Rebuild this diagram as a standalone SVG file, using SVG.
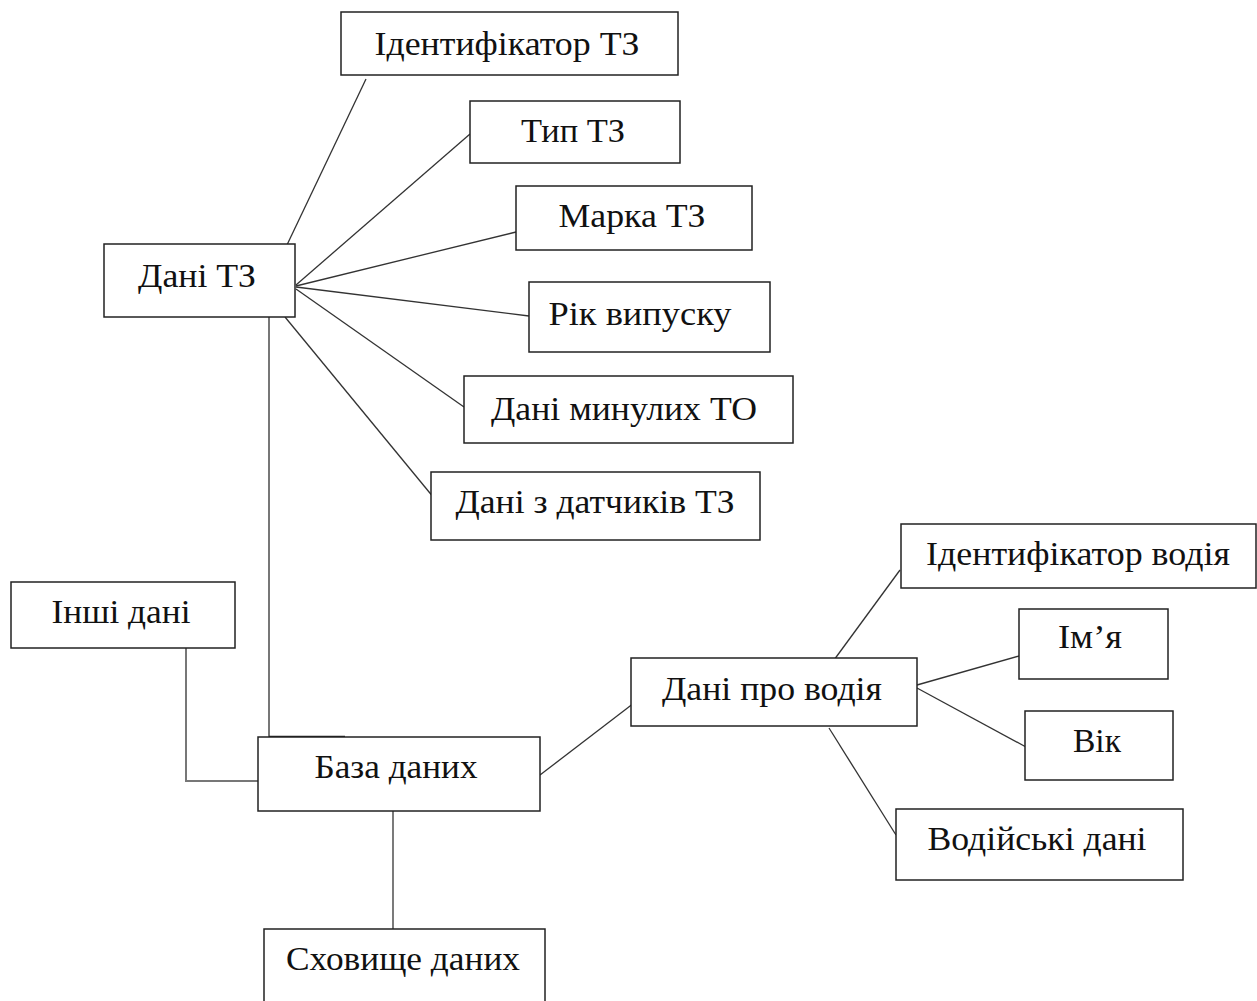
<svg xmlns="http://www.w3.org/2000/svg" width="1257" height="1001" viewBox="0 0 1257 1001">
<style>
.box{fill:#fff;stroke:#222;stroke-width:1.5}
.lbl{font-family:"Liberation Serif","Times New Roman",serif;font-size:33px;fill:#111;text-anchor:middle}
.ln{stroke:#333;stroke-width:1.3;fill:none}
.gl{stroke:#777;stroke-width:2;fill:none}
</style>
<rect width="1257" height="1001" fill="#fff"/>
<g id="connectors">
<line class="ln" x1="366" y1="79" x2="286" y2="247"/>
<line class="ln" x1="470" y1="134" x2="296" y2="285"/>
<line class="ln" x1="516" y1="232" x2="296" y2="286"/>
<line class="ln" x1="529" y1="316" x2="296" y2="287"/>
<line class="ln" x1="296" y1="289" x2="464" y2="407"/>
<line class="ln" x1="285" y1="317" x2="434" y2="498"/>
<polyline class="gl" points="269,317 269,737"/>
<line stroke="#222" stroke-width="2.5" x1="269" y1="737" x2="345" y2="737"/>
<polyline class="gl" points="186,648 186,781 258,781"/>
<line class="ln" x1="393" y1="811" x2="393" y2="929"/>
<line class="ln" x1="540" y1="775" x2="634" y2="703"/>
<line class="ln" x1="834" y1="660" x2="900" y2="570"/>
<line class="ln" x1="917" y1="685" x2="1019" y2="656"/>
<line class="ln" x1="917" y1="688" x2="1026" y2="747"/>
<line class="ln" x1="829" y1="728" x2="896" y2="835"/>
</g>
<g id="n-ident-tz"><rect class="box" x="341" y="12" width="337" height="63"/><text class="lbl" x="507" y="55" textLength="265" lengthAdjust="spacingAndGlyphs">Ідентифікатор ТЗ</text></g>
<g id="n-typ-tz"><rect class="box" x="470" y="101" width="210" height="62"/><text class="lbl" x="573" y="142" textLength="104" lengthAdjust="spacingAndGlyphs">Тип ТЗ</text></g>
<g id="n-marka-tz"><rect class="box" x="516" y="186" width="236" height="64"/><text class="lbl" x="632" y="227" textLength="147" lengthAdjust="spacingAndGlyphs">Марка ТЗ</text></g>
<g id="n-rik"><rect class="box" x="529" y="282" width="241" height="70"/><text class="lbl" x="640" y="325" textLength="183" lengthAdjust="spacingAndGlyphs">Рік випуску</text></g>
<g id="n-to"><rect class="box" x="464" y="376" width="329" height="67"/><text class="lbl" x="624" y="420" textLength="266" lengthAdjust="spacingAndGlyphs">Дані минулих ТО</text></g>
<g id="n-datchyky"><rect class="box" x="431" y="472" width="329" height="68"/><text class="lbl" x="595" y="513" textLength="279" lengthAdjust="spacingAndGlyphs">Дані з датчиків ТЗ</text></g>
<g id="n-dani-tz"><rect class="box" x="104" y="244" width="191" height="73"/><text class="lbl" x="197" y="287" textLength="118" lengthAdjust="spacingAndGlyphs">Дані ТЗ</text></g>
<g id="n-inshi"><rect class="box" x="11" y="582" width="224" height="66"/><text class="lbl" x="121" y="623" textLength="139" lengthAdjust="spacingAndGlyphs">Інші дані</text></g>
<g id="n-baza"><rect class="box" x="258" y="737" width="282" height="74"/><text class="lbl" x="396" y="778" textLength="163" lengthAdjust="spacingAndGlyphs">База даних</text></g>
<g id="n-skhovyshche"><rect class="box" x="264" y="929" width="281" height="90"/><text class="lbl" x="403" y="970" textLength="234" lengthAdjust="spacingAndGlyphs">Сховище даних</text></g>
<g id="n-vodiy"><rect class="box" x="631" y="658" width="286" height="68"/><text class="lbl" x="772" y="700" textLength="220" lengthAdjust="spacingAndGlyphs">Дані про водія</text></g>
<g id="n-ident-vodiy"><rect class="box" x="901" y="524" width="355" height="64"/><text class="lbl" x="1078" y="565" textLength="304" lengthAdjust="spacingAndGlyphs">Ідентифікатор водія</text></g>
<g id="n-imya"><rect class="box" x="1019" y="609" width="149" height="70"/><text class="lbl" x="1090" y="648" textLength="64" lengthAdjust="spacingAndGlyphs">Ім’я</text></g>
<g id="n-vik"><rect class="box" x="1025" y="711" width="148" height="69"/><text class="lbl" x="1097" y="752" textLength="48" lengthAdjust="spacingAndGlyphs">Вік</text></g>
<g id="n-vodiyski"><rect class="box" x="896" y="809" width="287" height="71"/><text class="lbl" x="1037" y="850" textLength="219" lengthAdjust="spacingAndGlyphs">Водійські дані</text></g>
</svg>
